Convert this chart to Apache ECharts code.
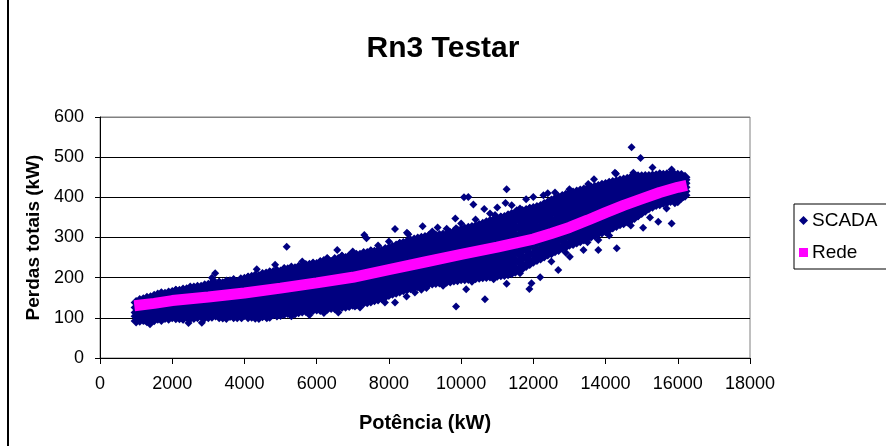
<!DOCTYPE html>
<html>
<head>
<meta charset="utf-8">
<title>Rn3 Testar</title>
<script src="https://cdn.jsdelivr.net/npm/echarts@6.0.0/dist/echarts.min.js"></script>
<style>
  html, body { margin: 0; padding: 0; background: #fff; }
  #chart { width: 886px; height: 446px; }
</style>
</head>
<body>
<div id="chart"></div>
<script>
// x ticks / y ticks
const xTicks = [0, 2000, 4000, 6000, 8000, 10000, 12000, 14000, 16000, 18000];
const yTicks = [0, 100, 200, 300, 400, 500, 600];

// SCADA: dense band read column by column (x in kW, y values at that x)
const scadaColumnX = [
  1000, 1200, 1400, 1600, 1800, 2000, 2200, 2400, 2600, 2800,
  3000, 3200, 3400, 3600, 3800, 4000, 4200, 4400, 4600, 4800,
  5000, 5200, 5400, 5600, 5800, 6000, 6200, 6400, 6600, 6800,
  7000, 7200, 7400, 7600, 7800, 8000, 8200, 8400, 8600, 8800,
  9000, 9200, 9400, 9600, 9800, 10000, 10200, 10400, 10600, 10800,
  11000, 11200, 11400, 11600, 11800, 12000, 12200, 12400, 12600, 12800,
  13000, 13200, 13400, 13600, 13800, 14000, 14200, 14400, 14600, 14800,
  15000, 15200, 15400, 15600, 15800, 16000, 16200
];
const scadaColumnY = [
  [92, 104, 113, 126, 138], [96, 108, 119, 131, 145], [97, 110, 124, 137, 150],
  [99, 112, 121, 135, 147, 157], [101, 108, 119, 133, 146, 159], [103, 115, 126, 140, 151, 163],
  [100, 111, 124, 137, 152, 166], [104, 116, 130, 145, 159, 170], [101, 113, 127, 141, 156, 172],
  [106, 118, 132, 148, 163, 176], [103, 117, 129, 144, 158, 170, 181], [107, 121, 136, 150, 165, 179],
  [102, 113, 127, 140, 156, 171, 185], [106, 119, 133, 147, 162, 177, 190], [103, 116, 129, 143, 158, 173, 188],
  [108, 121, 137, 151, 166, 181, 196], [104, 117, 131, 146, 160, 175, 190, 201], [101, 112, 126, 140, 155, 170, 186, 203],
  [106, 118, 134, 149, 165, 181, 196, 209], [110, 123, 139, 155, 171, 186, 201, 213], [108, 122, 137, 152, 168, 184, 199, 214],
  [113, 127, 142, 158, 173, 189, 205, 220], [112, 125, 140, 156, 172, 188, 204, 222], [117, 131, 147, 163, 179, 195, 211, 227],
  [119, 134, 150, 166, 182, 198, 215, 231], [122, 136, 151, 167, 183, 199, 216, 233], [121, 134, 148, 164, 180, 196, 212, 228, 240],
  [126, 140, 155, 171, 188, 205, 222, 238], [127, 142, 158, 175, 192, 209, 226, 245], [129, 144, 160, 177, 194, 211, 229, 248],
  [134, 150, 166, 183, 200, 218, 236, 253], [137, 153, 170, 187, 205, 223, 240, 256], [140, 156, 173, 190, 208, 226, 244, 260],
  [145, 160, 177, 195, 213, 231, 248, 263], [150, 166, 183, 201, 219, 237, 253, 266], [158, 173, 190, 208, 226, 244, 259, 272],
  [164, 180, 197, 215, 233, 250, 265, 279], [170, 186, 203, 221, 239, 256, 271, 285], [175, 190, 207, 225, 243, 260, 276, 291],
  [180, 196, 213, 231, 249, 266, 282, 296], [184, 200, 218, 236, 254, 271, 287, 300], [187, 203, 221, 239, 257, 274, 290, 302],
  [189, 205, 222, 240, 258, 276, 292, 305], [191, 208, 226, 244, 262, 279, 294, 306], [194, 210, 228, 246, 264, 282, 298, 313],
  [197, 213, 231, 249, 267, 285, 302, 318], [198, 215, 233, 251, 270, 288, 306, 323], [200, 218, 236, 255, 274, 292, 310, 327],
  [202, 219, 237, 256, 275, 294, 313, 333], [204, 222, 241, 260, 280, 300, 320, 340], [206, 224, 244, 264, 284, 305, 325, 345],
  [208, 227, 247, 268, 289, 310, 330, 350], [212, 232, 253, 274, 295, 316, 337, 357], [220, 240, 261, 282, 303, 324, 344, 362],
  [230, 249, 269, 290, 310, 330, 349, 367], [241, 259, 278, 297, 316, 335, 354, 372], [249, 267, 286, 305, 324, 343, 361, 377],
  [259, 277, 296, 315, 334, 353, 371, 386], [267, 285, 304, 323, 342, 361, 379, 395], [275, 293, 312, 331, 350, 368, 386, 402],
  [283, 301, 320, 339, 357, 375, 392, 408], [289, 307, 326, 345, 363, 381, 398, 413], [296, 313, 332, 351, 370, 388, 404, 418],
  [304, 321, 340, 358, 376, 393, 409, 423], [311, 329, 347, 365, 382, 398, 413, 427], [317, 334, 352, 370, 387, 403, 418, 432],
  [326, 342, 359, 376, 392, 408, 423, 437], [334, 350, 366, 382, 398, 413, 428, 441], [341, 357, 372, 388, 403, 418, 432, 445],
  [350, 365, 380, 395, 410, 424, 438, 450], [362, 377, 391, 405, 419, 433, 446, 451], [374, 388, 402, 416, 429, 441, 452],
  [382, 395, 408, 421, 433, 444, 454], [387, 399, 411, 423, 434, 445, 455], [392, 404, 416, 428, 439, 449, 457],
  [396, 407, 418, 429, 440, 449, 455], [405, 415, 425, 435, 444, 450]
];

// SCADA: second set of columns in between the first ones
const scadaOddX = [
  1100, 1300, 1500, 1700, 1900, 2100, 2300, 2500, 2700, 2900,
  3100, 3300, 3500, 3700, 3900, 4100, 4300, 4500, 4700, 4900,
  5100, 5300, 5500, 5700, 5900, 6100, 6300, 6500, 6700, 6900,
  7100, 7300, 7500, 7700, 7900, 8100, 8300, 8500, 8700, 8900,
  9100, 9300, 9500, 9700, 9900, 10100, 10300, 10500, 10700, 10900,
  11100, 11300, 11500, 11700, 11900, 12100, 12300, 12500, 12700, 12900,
  13100, 13300, 13500, 13700, 13900, 14100, 14300, 14500, 14700, 14900,
  15100, 15300, 15500, 15700, 15900, 16100
];
const scadaOddY = [
  [97, 109, 120, 132, 143], [93, 102, 114, 125, 138, 149], [95, 104, 117, 130, 143, 154],
  [96, 106, 117, 128, 141, 152, 160], [99, 105, 114, 126, 140, 152, 162], [100, 109, 121, 133, 146, 157, 166],
  [99, 106, 118, 131, 145, 159, 169], [100, 110, 123, 138, 152, 165, 174], [103, 107, 120, 134, 149, 164, 176],
  [102, 112, 125, 140, 156, 170, 180], [104, 110, 123, 137, 151, 164, 176, 184], [103, 114, 129, 143, 158, 172, 186],
  [104, 108, 120, 134, 148, 164, 178, 189], [103, 112, 126, 140, 155, 170, 184, 193], [105, 110, 123, 136, 151, 166, 181, 195],
  [103, 114, 129, 144, 159, 174, 189, 199], [106, 110, 124, 139, 153, 168, 183, 196, 204], [105, 107, 119, 133, 148, 163, 178, 194, 208],
  [104, 112, 126, 142, 157, 173, 189, 203, 212], [107, 116, 131, 147, 163, 179, 194, 207, 216], [111, 115, 130, 145, 160, 176, 192, 207, 219],
  [111, 120, 135, 150, 166, 181, 197, 213, 224], [115, 118, 133, 148, 164, 180, 196, 213, 226], [118, 124, 139, 155, 171, 187, 203, 219, 230],
  [121, 127, 142, 158, 174, 190, 207, 223, 234], [121, 129, 144, 159, 175, 191, 208, 225, 238], [124, 128, 141, 156, 172, 188, 204, 220, 234, 244],
  [125, 133, 148, 163, 180, 197, 214, 230, 245], [128, 135, 150, 167, 184, 201, 218, 236, 250], [131, 137, 152, 169, 186, 203, 220, 239, 253],
  [135, 142, 158, 175, 192, 209, 227, 245, 256], [139, 145, 162, 179, 196, 214, 232, 248, 260], [142, 148, 165, 182, 199, 217, 235, 252, 263],
  [147, 153, 169, 186, 204, 222, 240, 256, 266], [154, 158, 175, 192, 210, 228, 245, 260, 270], [161, 166, 182, 199, 217, 235, 252, 266, 276],
  [167, 172, 189, 206, 224, 242, 258, 272, 283], [172, 178, 195, 212, 230, 248, 264, 278, 288], [177, 182, 199, 216, 234, 252, 268, 284, 294],
  [182, 188, 205, 222, 240, 258, 274, 289, 298], [186, 192, 209, 227, 245, 263, 279, 294, 301], [188, 195, 212, 230, 248, 266, 282, 296, 304],
  [190, 197, 214, 231, 249, 267, 284, 299, 306], [192, 200, 217, 235, 253, 271, 287, 301, 310], [195, 202, 219, 237, 255, 273, 290, 306, 316],
  [197, 205, 222, 240, 258, 276, 294, 310, 321], [199, 207, 224, 242, 261, 279, 297, 315, 325], [201, 209, 227, 246, 265, 283, 301, 319, 330],
  [203, 211, 228, 247, 266, 285, 304, 323, 337], [205, 213, 232, 251, 270, 290, 310, 330, 343], [207, 215, 234, 254, 274, 295, 315, 335, 348],
  [210, 218, 237, 258, 279, 300, 320, 340, 354], [216, 222, 243, 264, 285, 306, 327, 347, 360], [225, 230, 251, 272, 293, 314, 334, 353, 365],
  [235, 240, 259, 280, 300, 320, 340, 358, 370], [245, 250, 269, 288, 307, 326, 345, 363, 375], [254, 258, 277, 296, 315, 334, 352, 369, 382],
  [262, 268, 287, 306, 325, 344, 362, 379, 391], [270, 276, 295, 314, 333, 352, 370, 387, 399], [278, 284, 303, 322, 341, 359, 377, 394, 405],
  [285, 292, 311, 330, 348, 366, 384, 400, 411], [292, 298, 317, 336, 354, 372, 390, 406, 416], [300, 305, 323, 342, 361, 379, 396, 411, 421],
  [307, 313, 331, 349, 367, 385, 401, 416, 425], [314, 320, 338, 356, 374, 390, 406, 420, 430], [321, 326, 343, 361, 379, 395, 411, 425, 435],
  [330, 334, 351, 368, 384, 400, 416, 430, 439], [337, 342, 358, 374, 390, 406, 421, 435, 443], [345, 349, 365, 380, 396, 411, 425, 439, 448],
  [356, 358, 372, 388, 403, 417, 431, 444, 451], [368, 370, 384, 398, 412, 426, 440, 452], [378, 381, 395, 409, 423, 435, 447, 453],
  [384, 389, 402, 415, 427, 439, 449, 455], [389, 393, 405, 417, 429, 440, 450, 456], [394, 398, 410, 422, 434, 444, 453, 456],
  [400, 402, 413, 424, 435, 445, 452]
];

// SCADA: loose points around the band
const scadaLoose = [
  [1385, 84], [2450, 87], [2820, 88], [3920, 99], [4620, 99], [6790, 128], [7060, 128], [7890, 138],
  [8170, 138], [8490, 153], [8720, 163], [9040, 174], [9860, 128], [10140, 171], [10660, 146], [11260, 185],
  [11630, 211], [11890, 172], [11950, 186], [12190, 201], [12690, 219], [13010, 252], [13390, 269],
  [13800, 269], [13800, 294], [14310, 273], [15040, 324], [15230, 350], [15460, 339], [15690, 372],
  [15830, 335], [15920, 385], [16150, 401], [5800, 107], [1100, 90], [1250, 93], [2300, 96], [3500, 97],
  [4300, 98], [5300, 104], [6200, 112], [6600, 113], [7200, 126], [8900, 170], [9500, 180], [10300, 190],
  [10900, 196], [12500, 240], [12900, 262], [13500, 288], [14100, 305], [14700, 330], [16000, 388],
  [3140, 194], [3190, 211], [4340, 221], [4850, 232], [5170, 277], [5600, 240], [6290, 249], [6570, 269],
  [7000, 265], [7320, 306], [7380, 298], [7700, 280], [8000, 290], [8170, 321], [8540, 308], [8500, 312],
  [8935, 328], [9350, 325], [9200, 315], [9600, 322], [9840, 347], [9860, 323], [10000, 335], [10080, 400],
  [10200, 401], [10340, 382], [10400, 345], [10640, 371], [10800, 360], [10940, 356], [11000, 375],
  [11230, 386], [11260, 420], [11400, 380], [11540, 368], [11630, 372], [11800, 395], [12000, 401],
  [12280, 405], [12400, 410], [12600, 412], [13000, 420], [13520, 433], [13680, 445], [14290, 459],
  [14260, 461], [14770, 461], [14720, 525], [14970, 498], [15300, 474], [15830, 469], [15500, 460],
  [16100, 458], [1700, 162], [2100, 170], [2600, 178], [3300, 190], [3100, 200], [4100, 202], [4700, 215],
  [5100, 224], [5900, 236], [6700, 255], [7500, 268], [8300, 286], [9100, 306], [9900, 318], [10500, 332],
  [11100, 352], [11900, 374], [12700, 400]
];

// Rede curve
const redeX = [950, 1500, 2000, 3000, 4000, 5000, 6000, 7000, 8000, 9000, 10000, 11000,
  12000, 12500, 13000, 13500, 14000, 14500, 15000, 15500, 16000, 16250];
const redeY = [130, 136, 143, 152, 162, 174, 187, 201, 220, 239, 258, 276,
  296, 310, 325, 343, 362, 380, 396, 412, 425, 430];

// band points overlap heavily in the picture, loose ones stand alone
const scadaData = [];
scadaColumnX.forEach((x, i) => {
  scadaColumnY[i].forEach(y => scadaData.push({ value: [x, y], symbolSize: 11 }));
});
scadaOddX.forEach((x, i) => {
  scadaOddY[i].forEach(y => scadaData.push({ value: [x, y], symbolSize: 11 }));
});
scadaLoose.forEach(p => scadaData.push({ value: p, symbolSize: 8 }));

const redeData = redeX.map((x, i) => [x, redeY[i]]);

const font = "'Liberation Sans', Arial, sans-serif";

const chartOptions = {
  animation: false,
  backgroundColor: '#fff',
  textStyle: { fontFamily: font },
  title: {
    text: 'Rn3 Testar',
    left: 'center',
    top: 29,
    textStyle: { fontFamily: font, fontSize: 30, fontWeight: 'bold', color: '#000' }
  },
  legend: {
    orient: 'vertical',
    left: 794,
    top: 204,
    padding: [7, 20, 7, 5],
    itemGap: 13,
    itemWidth: 9,
    itemHeight: 9,
    borderColor: '#000',
    borderWidth: 1,
    textStyle: { fontFamily: font, fontSize: 19, color: '#000', padding: [0, 0, 0, -1] },
    data: [
      { name: 'SCADA', icon: 'diamond' },
      { name: 'Rede', icon: 'rect' }
    ]
  },
  grid: {
    left: 100,
    right: 136,
    top: 117,
    bottom: 88,
    show: true,
    borderColor: '#808080',
    borderWidth: 1
  },
  xAxis: {
    type: 'value',
    min: xTicks[0],
    max: xTicks[xTicks.length - 1],
    interval: 2000,
    name: 'Potência (kW)',
    nameLocation: 'middle',
    nameGap: 55,
    nameTextStyle: { fontFamily: font, fontSize: 20, fontWeight: 'bold', color: '#000' },
    axisLine: { show: true, lineStyle: { color: '#000', width: 1 } },
    axisTick: { show: true, length: 6, lineStyle: { color: '#000' } },
    axisLabel: {
      fontFamily: font, fontSize: 18, color: '#000', margin: 17,
      formatter: v => String(v)
    },
    splitLine: { show: false }
  },
  yAxis: {
    type: 'value',
    min: yTicks[0],
    max: yTicks[yTicks.length - 1],
    interval: 100,
    name: 'Perdas totais (kW)',
    nameLocation: 'middle',
    nameRotate: 90,
    nameGap: 56,
    nameTextStyle: { fontFamily: font, fontSize: 19, fontWeight: 'bold', color: '#000' },
    axisLine: { show: true, lineStyle: { color: '#000', width: 1 } },
    axisTick: { show: true, length: 5, lineStyle: { color: '#000' } },
    axisLabel: { fontFamily: font, fontSize: 18, color: '#000', margin: 16 },
    splitLine: {
      show: true,
      lineStyle: { color: ['#000', '#000', '#000', '#000', '#000', '#000', '#808080'], width: 1 }
    }
  },
  series: [
    {
      name: 'SCADA',
      type: 'scatter',
      symbol: 'diamond',
      symbolSize: 8,
      itemStyle: { color: '#000080', opacity: 1 },
      data: scadaData,
      z: 2
    },
    {
      name: 'Rede',
      type: 'line',
      showSymbol: false,
      symbol: 'rect',
      color: '#FF00FF',
      lineStyle: { color: '#FF00FF', width: 11, cap: 'butt' },
      itemStyle: { color: '#FF00FF' },
      data: redeData,
      z: 3
    }
  ],
  graphic: [
    {
      type: 'line',
      shape: { x1: 8, y1: 0, x2: 8, y2: 446 },
      style: { stroke: '#000', lineWidth: 2 }
    }
  ]
};

const chartInstance = echarts.init(document.getElementById('chart'));
chartInstance.setOption(chartOptions);
</script>
</body>
</html>
